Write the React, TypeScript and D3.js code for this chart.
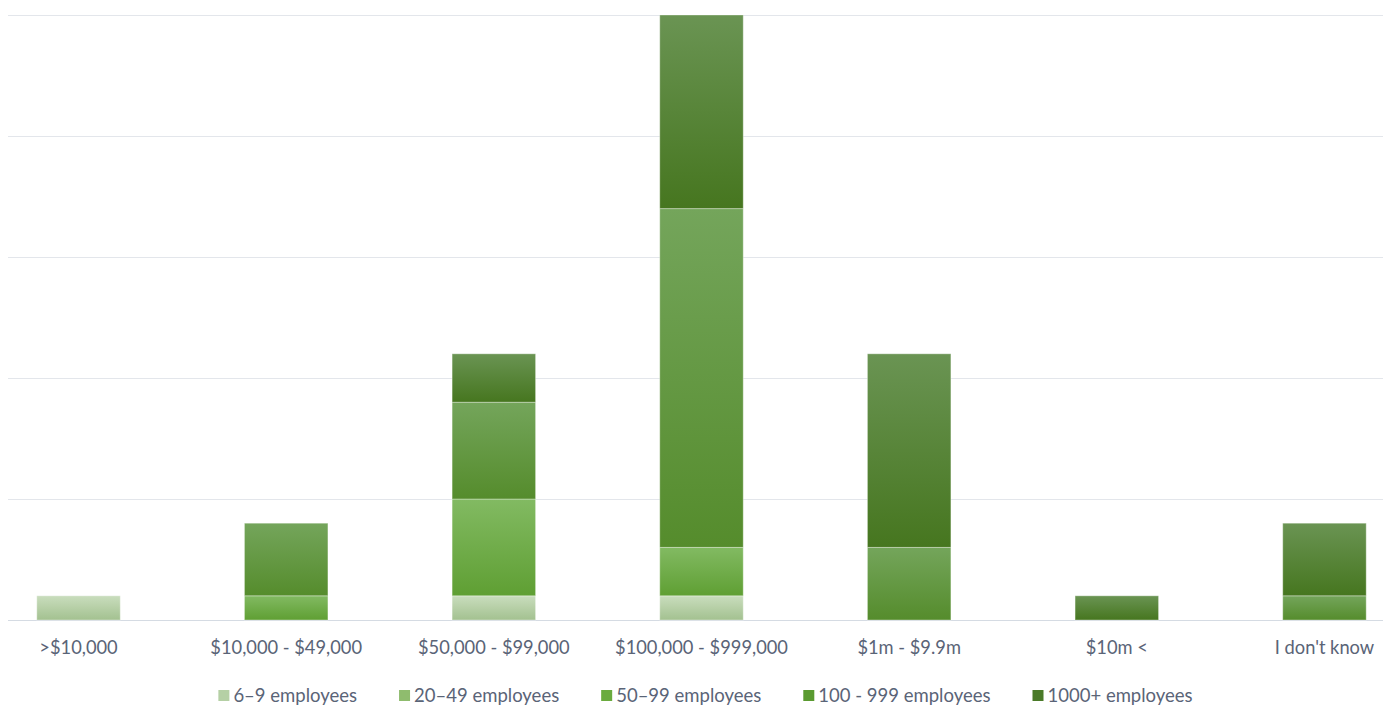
import React, { useEffect, useRef } from "react";
import * as d3 from "d3";

const categories = [">$10,000", "$10,000 - $49,000", "$50,000 - $99,000", "$100,000 - $999,000", "$1m - $9.9m", "$10m <", "I don't know"];
const seriesNames = ["6–9 employees", "20–49 employees", "50–99 employees", "100 - 999 employees", "1000+ employees"];
const s6to9 = [1, 0, 1, 1, 0, 0, 0];
const s20to49 = [0, 0, 0, 0, 0, 0, 0];
const s50to99 = [0, 1, 4, 2, 0, 0, 0];
const s100to999 = [0, 3, 4, 14, 3, 0, 1];
const s1000plus = [0, 0, 2, 8, 8, 1, 3];
const yTicks = [0, 5, 10, 15, 20, 25];

const seriesValues = [s6to9, s20to49, s50to99, s100to999, s1000plus];
const topColors = ["#c9ddbd", "#a6cc8d", "#82ba62", "#74a55b", "#6a9453"];
const bottomColors = ["#a3c190", "#80b060", "#5f9f33", "#558c2c", "#46761f"];
const legendColors = ["#b5d0a5", "#8fbc6e", "#6aab3e", "#5a9a30", "#4a7a28"];

const W = 1383;
const H = 706;

export default function App() {
  const ref = useRef<SVGSVGElement>(null);
  useEffect(() => {
    const svg = d3.select(ref.current);
    svg.selectAll("*").remove();
    const font = "Lato, 'Open Sans', sans-serif";
    const textColor = "#5a6477";

    const x = d3.scaleBand<string>().domain(categories).range([-25.3, 1428.3]).paddingInner(0.598).paddingOuter(0.299);
    const y = d3.scaleLinear().domain([0, 25]).range([620, 15]);

    const defs = svg.append("defs");
    seriesNames.forEach((_, i) => {
      const g = defs.append("linearGradient").attr("id", `grad${i}`).attr("x1", 0).attr("y1", 0).attr("x2", 0).attr("y2", 1);
      g.append("stop").attr("offset", "0%").attr("stop-color", topColors[i]);
      g.append("stop").attr("offset", "100%").attr("stop-color", bottomColors[i]);
    });

    svg.append("g").selectAll("line").data(yTicks).join("line")
      .attr("x1", 8).attr("x2", W).attr("y1", (d) => Math.round(y(d)) + 0.5).attr("y2", (d) => Math.round(y(d)) + 0.5)
      .attr("stroke", (d) => (d === 0 ? "#d5dbe3" : "#e3e6eb")).attr("stroke-width", 1);

    const rows = categories.map((c, i) => {
      const r: any = { cat: c };
      seriesNames.forEach((s, j) => (r[s] = seriesValues[j][i]));
      return r;
    });
    const stacked = d3.stack<any>().keys(seriesNames)(rows);

    stacked.forEach((layer, i) => {
      svg.append("g").selectAll("rect").data(layer.filter((d) => d[1] - d[0] > 0)).join("rect")
        .attr("x", (d) => x(d.data.cat)!)
        .attr("width", x.bandwidth())
        .attr("y", (d) => y(d[1]))
        .attr("height", (d) => y(d[0]) - y(d[1]))
        .attr("fill", `url(#grad${i})`)
        .attr("stroke", "#ffffff").attr("stroke-opacity", 0.35).attr("stroke-width", 1);
    });

    svg.append("g").selectAll("text").data(categories).join("text")
      .attr("x", (d) => x(d)! + x.bandwidth() / 2)
      .attr("y", 654)
      .attr("text-anchor", "middle")
      .attr("font-family", font).attr("font-size", 18.3).attr("fill", textColor)
      .text((d) => d);

    const lg = svg.append("g");
    const items = seriesNames.map((s, i) => {
      const g = lg.append("g");
      g.append("rect").attr("x", 0).attr("y", -12).attr("width", 11).attr("height", 11).attr("fill", legendColors[i]);
      const t = g.append("text").attr("x", 15).attr("y", 0).attr("font-family", font).attr("font-size", 18.5).attr("fill", textColor).text(s);
      const w = 15 + (t.node() as SVGTextElement).getComputedTextLength();
      return { g, w };
    });
    const gap = 42;
    const total = d3.sum(items, (d) => d.w) + gap * (items.length - 1);
    let cx = 705.5 - total / 2;
    items.forEach((it) => {
      it.g.attr("transform", `translate(${cx},702)`);
      cx += it.w + gap;
    });
  }, []);
  return <svg ref={ref} width={W} height={H} style={{ display: "block", position: "absolute", left: 0, top: 0, background: "#fff" }} />;
}
